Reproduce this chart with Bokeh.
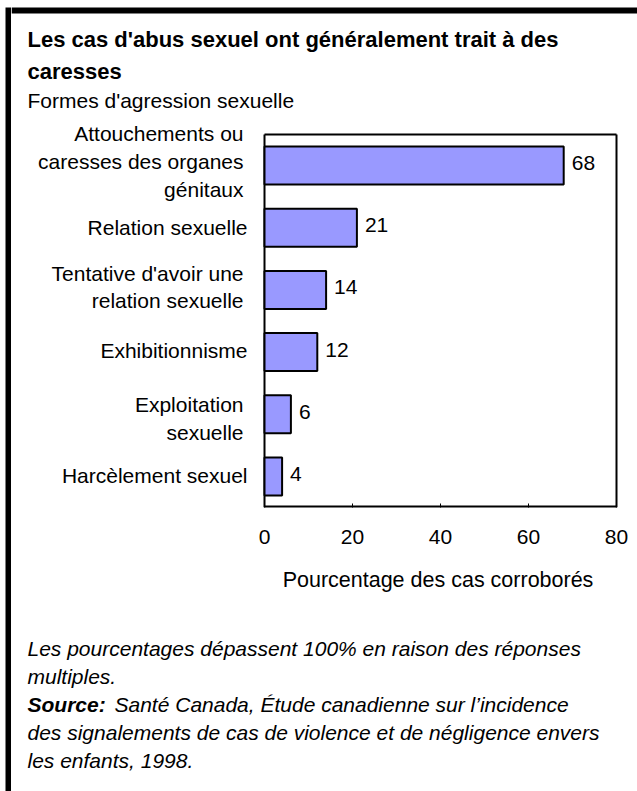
from bokeh.plotting import figure
from bokeh.layouts import row, column
from bokeh.models import Range1d, FixedTicker, LinearAxis, ColumnDataSource
from bokeh.core.properties import value
from bokeh.embed import file_html
from bokeh.resources import INLINE

# ---------------- data ----------------
categories = [
    "Attouchements ou\ncaresses des organes\ngénitaux",
    "Relation sexuelle",
    "Tentative d'avoir une\nrelation sexuelle",
    "Exhibitionnisme",
    "Exploitation\nsexuelle",
    "Harcèlement sexuel",
]
percentages = [68, 21, 14, 12, 6, 4]
x_ticks = [0, 20, 40, 60, 80]
title_lines = ["Les cas d'abus sexuel ont généralement trait à des", "caresses"]
subtitle = "Formes d'agression sexuelle"
x_axis_title = "Pourcentage des cas corroborés"
note_lines = ["Les pourcentages dépassent 100% en raison des réponses", "multiples."]
source_label = "Source:"
source_lines = [
    "Santé Canada, Étude canadienne sur l\u2019incidence",
    "des signalements de cas de violence et de négligence envers",
    "les enfants, 1998.",
]

# ---------------- style / layout (page pixels) ----------------
FONT = "Liberation Sans"
PAGE_W, PAGE_H = 637, 791
STRIP_W = 11                 # left black bar strip
BOX_L, BOX_R, BOX_T, BOX_B = 264, 616, 134, 507   # chart box on the page
CHART_TOP = 116
CHART_BOTTOM = 558
BAR_FILL = "#9999FF"
TXT = "21px"
TEXT_X = 27
# vertical centre offsets (px, down) of each label line from its band centre
LABEL_LINE_OFFSETS = [[-32.5, -4.5, 23.5], [0], [-16, 11], [-1.5], [-9.5, 18.5], [-1]]
X_MAX = x_ticks[-1]


def blank(width, height, x0, x1, y_bottom, y_top):
    f = figure(width=width, height=height, output_backend="svg", toolbar_location=None,
               x_range=Range1d(x0, x1), y_range=Range1d(y_bottom, y_top),
               x_axis_type=None, y_axis_type=None, min_border=0)
    f.grid.visible = False
    f.outline_line_color = None
    f.background_fill_color = "white"
    f.border_fill_color = "white"
    return f


def txt(f, x, y, s, size=TXT, style="normal", align="left"):
    f.text(x=[x], y=[y], text=[s], text_font=value(FONT), text_font_size=size,
           text_font_style=style, text_color="black", text_align=align,
           text_baseline="alphabetic")


# left strip with the black frame bar
strip = blank(STRIP_W, PAGE_H, 0, STRIP_W, PAGE_H, 0)
strip.quad(left=[5], right=[STRIP_W], top=[7], bottom=[PAGE_H], fill_color="black", line_color=None)

W = PAGE_W - STRIP_W

# top block: border bar, title, subtitle
top = blank(W, CHART_TOP, STRIP_W, PAGE_W, CHART_TOP, 0)
top.quad(left=[STRIP_W], right=[PAGE_W], top=[7], bottom=[13], fill_color="black", line_color=None)
for line, yc in zip(title_lines, [39, 71]):
    txt(top, TEXT_X, yc, line, size="22px", style="bold")
txt(top, TEXT_X, 99.5, subtitle)

# chart
n = len(categories)
px_per_unit = (BOX_R - BOX_L) / X_MAX
band_px = (BOX_B - BOX_T) / n
chart = figure(width=W, height=CHART_BOTTOM - CHART_TOP, output_backend="svg", toolbar_location=None,
               x_range=Range1d(-(BOX_L - STRIP_W) / px_per_unit, X_MAX + (PAGE_W - BOX_R) / px_per_unit),
               y_range=Range1d(0, n + (BOX_T - CHART_TOP) / band_px),
               x_axis_type=None, y_axis_type=None,
               min_border_left=0, min_border_right=0, min_border_top=0,
               min_border_bottom=CHART_BOTTOM - BOX_B)
chart.grid.visible = False
chart.outline_line_color = None
chart.background_fill_color = "white"
chart.border_fill_color = "white"

ax = LinearAxis(bounds=(0, X_MAX), ticker=FixedTicker(ticks=x_ticks))
ax.axis_line_color = None
ax.major_tick_in = 4
ax.major_tick_out = 0
ax.major_tick_line_color = "black"
ax.major_tick_line_width = 1
ax.minor_tick_line_color = None
ax.major_label_text_font = FONT
ax.major_label_text_font_size = TXT
ax.major_label_text_color = "black"
ax.major_label_standoff = 22
chart.add_layout(ax, "below")

# chart box
chart.segment(x0=[0, X_MAX], y0=[0, 0], x1=[0, X_MAX], y1=[n, n], line_color="black", line_width=2)
chart.segment(x0=[0], y0=[n], x1=[X_MAX], y1=[n], line_color="black", line_width=2)
chart.segment(x0=[0], y0=[0], x1=[X_MAX], y1=[0], line_color="black", line_width=4)

ypos = [n - 0.5 - i for i in range(n)]   # first category on top
src = ColumnDataSource(dict(cat=categories, y=ypos, pct=percentages, lbl=[str(v) for v in percentages]))
chart.hbar(y="y", right="pct", left=0, height=0.61, source=src,
           fill_color=BAR_FILL, line_color="black", line_width=2)
chart.text(x="pct", y="y", text="lbl", source=src, x_offset=8, y_offset=-2.5,
           text_font=value(FONT), text_font_size=TXT, text_color="black",
           text_align="left", text_baseline="alphabetic")

# category labels, right aligned left of the box
for i, cat in enumerate(categories):
    lines = cat.split("\n")
    xoff = -17 if len(lines) == 1 else -21
    chart.text(x=[0] * len(lines), y=[ypos[i]] * len(lines), text=lines,
               x_offset=xoff, y_offset=LABEL_LINE_OFFSETS[i],
               text_font=value(FONT), text_font_size=TXT, text_color="black",
               text_align="right", text_baseline="alphabetic")

# bottom block: axis title and notes
bottom = blank(W, PAGE_H - CHART_BOTTOM, STRIP_W, PAGE_W, PAGE_H, CHART_BOTTOM)
txt(bottom, 437.5, 579, x_axis_title, size="21.5px", align="center")
for line, yc in zip(note_lines, [648, 676]):
    txt(bottom, TEXT_X, yc, line, style="italic")
txt(bottom, TEXT_X, 704, source_label, style="bold italic")
for line, yc, xs in zip(source_lines, [704, 732, 760], [114, TEXT_X, TEXT_X]):
    txt(bottom, xs, yc, line, style="italic")

layout = row(strip, column(top, chart, bottom, spacing=0), spacing=0)
open("out.html", "w").write(file_html(layout, INLINE))
